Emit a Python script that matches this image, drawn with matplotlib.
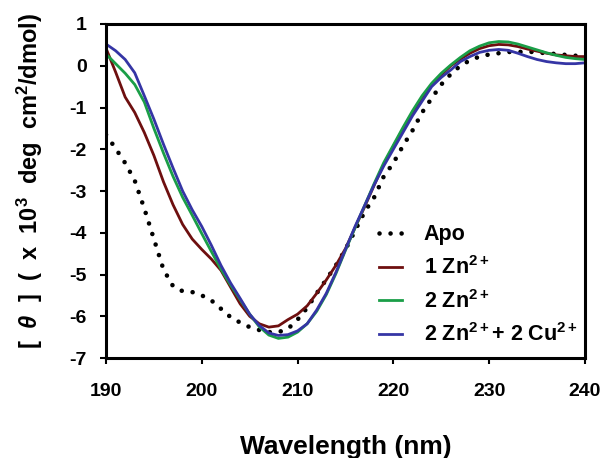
import matplotlib
matplotlib.use("Agg")
import matplotlib.pyplot as plt
import numpy as np

plt.rcParams['font.family'] = ['Liberation Sans', 'DejaVu Sans']
plt.rcParams['font.weight'] = 'bold'
plt.rcParams['axes.unicode_minus'] = False
plt.rcParams['mathtext.fontset'] = 'custom'
plt.rcParams['mathtext.rm'] = 'Liberation Sans:bold'
plt.rcParams['mathtext.bf'] = 'Liberation Sans:bold'
plt.rcParams['mathtext.it'] = 'Liberation Sans:bold:italic'
plt.rcParams['mathtext.default'] = 'bf'

# wavelength (nm), 1 nm steps
wl = np.arange(190, 241)

apo = [-1.65, -1.98, -2.33, -2.75, -3.42, -4.15, -4.88, -5.28, -5.40, -5.42,
       -5.50, -5.62, -5.82, -6.02, -6.15, -6.26, -6.33, -6.38, -6.38, -6.30,
       -6.08, -5.80, -5.45, -5.12, -4.78, -4.40, -3.95, -3.50, -3.15, -2.65,
       -2.33, -1.92, -1.55, -1.12, -0.78, -0.45, -0.20, 0.00, 0.13, 0.22,
       0.27, 0.30, 0.33, 0.33, 0.34, 0.32, 0.30, 0.28, 0.26, 0.24,
       0.24]
zn1 = [0.42, -0.15, -0.75, -1.12, -1.60, -2.15, -2.78, -3.33, -3.80, -4.15,
       -4.40, -4.63, -4.90, -5.30, -5.70, -6.00, -6.18, -6.26, -6.23, -6.08,
       -5.95, -5.75, -5.45, -5.13, -4.78, -4.38, -3.88, -3.38, -2.86, -2.36,
       -1.93, -1.52, -1.12, -0.76, -0.46, -0.22, 0.00, 0.16, 0.30, 0.41,
       0.48, 0.51, 0.50, 0.46, 0.40, 0.35, 0.30, 0.26, 0.24, 0.22,
       0.22]
zn2 = [0.28, 0.05, -0.18, -0.45, -0.87, -1.50, -2.09, -2.65, -3.15, -3.58,
       -4.02, -4.45, -4.87, -5.25, -5.60, -5.95, -6.25, -6.45, -6.53, -6.50,
       -6.38, -6.18, -5.88, -5.48, -4.98, -4.42, -3.88, -3.35, -2.82, -2.32,
       -1.90, -1.48, -1.08, -0.72, -0.42, -0.18, 0.02, 0.20, 0.36, 0.47,
       0.55, 0.58, 0.57, 0.52, 0.45, 0.38, 0.31, 0.25, 0.20, 0.17,
       0.15]
zn2cu2 = [0.52, 0.36, 0.15, -0.17, -0.72, -1.28, -1.88, -2.45, -3.00, -3.45,
          -3.85, -4.30, -4.78, -5.20, -5.57, -5.95, -6.22, -6.40, -6.46, -6.44,
          -6.35, -6.18, -5.85, -5.45, -4.95, -4.40, -3.85, -3.35, -2.85, -2.40,
          -2.00, -1.60, -1.20, -0.85, -0.50, -0.28, -0.10, 0.10, 0.22, 0.32,
          0.37, 0.39, 0.37, 0.30, 0.22, 0.15, 0.10, 0.07, 0.05, 0.05,
          0.07]

fig = plt.figure(figsize=(6.03, 4.58), dpi=100)
ax = fig.add_axes([0.1758, 0.2183, 0.7942, 0.7293])

ax.plot(wl, apo, color='black', lw=3.3, linestyle=(0, (0.01, 2.4)),
        dash_capstyle='round', label='Apo')
ax.plot(wl, zn1, color='#6e0f0f', lw=2, label='1 Zn$^{2+}$')
ax.plot(wl, zn2, color='#1a9e47', lw=2, label='2 Zn$^{2+}$')
ax.plot(wl, zn2cu2, color='#3535a5', lw=2, label='2 Zn$^{2+}$+ 2 Cu$^{2+}$')

ax.set_xlim(190, 240)
ax.set_ylim(-7, 1)
ax.set_xticks(np.arange(190, 241, 10))
ax.set_yticks(np.arange(-7, 2, 1))
for s in ax.spines.values():
    s.set_linewidth(2.2)
ax.tick_params(direction='out', length=4, width=1.5, labelsize=14)
ax.tick_params(axis='x', pad=14)
ax.tick_params(axis='y', pad=10)

ax.set_xlabel('Wavelength (nm)', fontsize=19, fontweight='bold', labelpad=25)
ax.set_ylabel(r'[  $\mathit{\theta}$  ]  (  x  10$^{3}$  deg  cm$^{2}$/dmol)',
              fontsize=17, fontweight='bold')
ax.yaxis.set_label_coords(-0.128, 0.53)

ax.legend(loc='upper left', bbox_to_anchor=(0.529, 0.458), frameon=False,
          fontsize=15.5, handlelength=1.1, handletextpad=1.0, labelspacing=0.5)

fig.savefig('out.png', dpi=100)
